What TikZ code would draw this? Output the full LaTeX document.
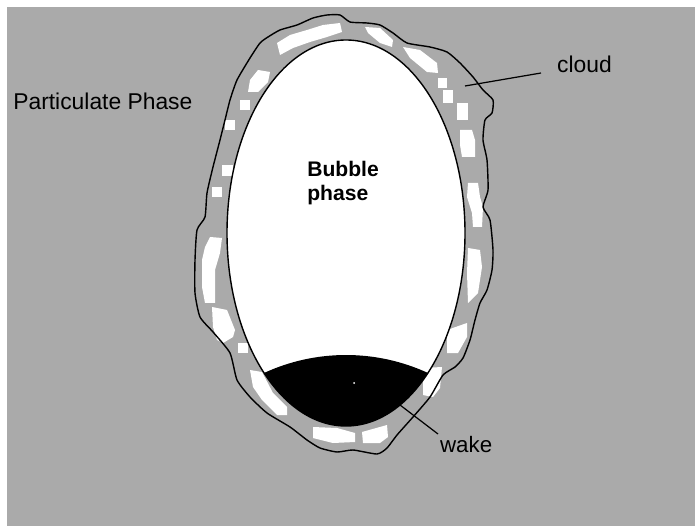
\documentclass[tikz,border=0pt]{standalone}
\usepackage{fontspec}
\setmainfont{Liberation Sans}
\usetikzlibrary{positioning}
\definecolor{bedgray}{RGB}{170,170,170}

\begin{document}
\begin{tikzpicture}[x=0.02cm,y=-0.02cm,line join=round]
        \useasboundingbox (0,0) rectangle (695,526);
        \fill[bedgray] (7,7) rectangle (695,526);
        % white pockets inside the cloud
        \fill[white] (277,43) -- (290,35) -- (307,30) -- (323,25) -- (340,23) -- (342,32) -- (327,37) -- (310,42) -- (293,48) -- (280,55) -- cycle;
        \fill[white] (365,27) -- (380,28) -- (393,40) -- (392,47) -- (380,43) -- (368,33) -- cycle;
        \fill[white] (403,47) -- (420,50) -- (437,63) -- (438,73) -- (427,72) -- (410,58) -- cycle;
        \fill[white] (438,78) rectangle (447,88);
        \fill[white] (443,90) rectangle (453,103);
        \fill[white] (457,103) rectangle (468,120);
        \fill[white] (460,130) -- (472,130) -- (475,140) -- (475,157) -- (462,157) -- (460,145) -- cycle;
        \fill[white] (468,183) -- (478,183) -- (480,197) -- (483,207) -- (482,227) -- (473,227) -- (472,213) -- (467,197) -- cycle;
        \fill[white] (468,248) -- (480,250) -- (482,267) -- (478,293) -- (468,303) -- (467,273) -- cycle;
        \fill[white] (447,330) -- (467,323) -- (467,337) -- (458,353) -- (447,353) -- cycle;
        \fill[white] (423,368) -- (442,367) -- (440,388) -- (433,397) -- (423,395) -- cycle;
        \fill[white] (362,432) -- (387,425) -- (388,437) -- (380,443) -- (363,443) -- cycle;
        \fill[white] (313,427) -- (337,428) -- (355,433) -- (355,442) -- (333,443) -- (313,438) -- cycle;
        \fill[white] (250,370) -- (262,372) -- (273,393) -- (287,407) -- (287,415) -- (277,415) -- (262,400) -- (253,387) -- cycle;
        \fill[white] (238,343) rectangle (248,353);
        \fill[white] (212,307) -- (227,310) -- (235,330) -- (233,337) -- (223,343) -- (217,340) -- (213,327) -- cycle;
        \fill[white] (210,237) -- (222,238) -- (220,253) -- (215,270) -- (215,303) -- (205,303) -- (202,287) -- (202,260) -- (205,247) -- cycle;
        \fill[white] (212,187) rectangle (222,197);
        \fill[white] (222,165) rectangle (233,176);
        \fill[white] (225,120) rectangle (235,130);
        \fill[white] (240,100) rectangle (250,110);
        \fill[white] (258,70) -- (270,72) -- (268,82) -- (258,92) -- (248,92) -- (250,80) -- cycle;
        % bubble and its wake
        \draw[line width=0.8pt,fill=white] (346,233) ellipse [x radius=119,y radius=193];
        \begin{scope}
            \clip (346,233) ellipse [x radius=119,y radius=193];
            \fill (200,373) -- (264,373) .. controls (316,349) and (376,349) .. (428,373) -- (500,373) -- (500,460) -- (200,460) -- cycle;
        \end{scope}
        \fill[white] (354,383) circle (1);
        % cloud boundary
        \draw[line width=0.8pt] plot[smooth cycle,tension=0.35] coordinates {
            (327,15) (340,15) (350,22) (367,23) (380,25) (393,33) (407,43) (430,47)
            (447,52) (460,63) (473,77) (483,90) (493,100) (492,113) (485,120) (483,140)
            (487,160) (488,190) (483,207) (490,220) (493,250) (492,270) (487,290) (480,303)
            (475,320) (470,340) (463,358) (455,367) (443,375) (430,397) (413,417) (397,435)
            (387,448) (377,454) (353,450) (337,452) (320,448) (307,440) (290,427) (267,413)
            (250,397) (237,380) (230,353) (213,332) (200,317) (195,293) (195,260) (197,230)
            (205,217) (207,193) (213,167) (220,140) (225,120) (230,100) (237,80) (250,58)
            (260,43) (268,37) (280,30) (297,25) (313,18)};
        % labels
        \node[anchor=base west,inner sep=0pt,font=\fontsize{13}{15}\selectfont] (particulate) at (13,110) {Particulate Phase};
        \node[anchor=north west,inner sep=0pt,align=left,font=\fontsize{12}{13.8}\selectfont\bfseries] (bubble) at (307,161) {Bubble\\phase};
        \node[anchor=base west,inner xsep=9pt,inner ysep=0pt,font=\fontsize{13}{15}\selectfont] (cloud) at (541,73) {cloud};
        \node[anchor=north west,inner sep=1pt,font=\fontsize{12.7}{15}\selectfont] (wake) at (438,434) {wake};
        \coordinate (cloudtip) at (465,86);
        \coordinate (waketip) at (400,405);
        \draw[line width=0.7pt] (cloudtip) -- (cloud.base west);
        \draw[line width=0.7pt] (waketip) -- (wake.north west);
\end{tikzpicture}
\end{document}
